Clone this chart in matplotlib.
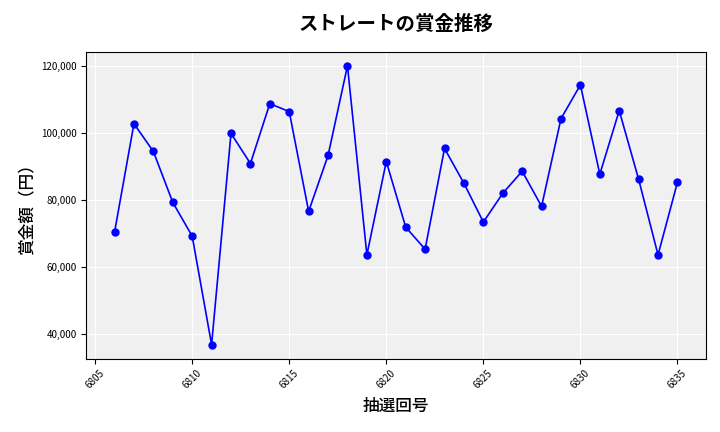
import matplotlib
matplotlib.use('Agg')
import matplotlib.pyplot as plt
from matplotlib.ticker import FuncFormatter

plt.rcParams['font.family'] = ['Noto Sans CJK JP', 'DejaVu Sans']

draws = list(range(6806, 6836))
prizes = [70300, 102700, 94400, 79200, 69100, 36700, 99800, 90800, 108700, 106300,
          76500, 93200, 120000, 63500, 91400, 71800, 65200, 95300, 84900, 73300,
          81900, 88500, 78000, 104200, 114300, 87600, 106600, 86100, 63500, 85200]

fig, ax = plt.subplots(figsize=(7.2, 4.32), dpi=100)
ax.set_facecolor('#f0f0f0')
ax.plot(draws, prizes, color='blue', marker='o', markersize=5, linewidth=1.2)
ax.grid(True, color='white', linewidth=0.8)
ax.set_axisbelow(True)
ax.set_title('ストレートの賞金推移', fontsize=14, fontweight='bold', pad=16)
ax.set_xlabel('抽選回号', fontsize=12, fontweight='medium')
ax.set_ylabel('賞金額（円）', fontsize=12, fontweight='medium')
ax.set_xticks(range(6805, 6836, 5))
ax.yaxis.set_major_formatter(FuncFormatter(lambda v, p: f'{int(v):,}'))
ax.tick_params(labelsize=7)
plt.setp(ax.get_xticklabels(), rotation=45)
fig.subplots_adjust(left=0.12, right=0.98, top=0.88, bottom=0.17)
fig.savefig('out.png')
